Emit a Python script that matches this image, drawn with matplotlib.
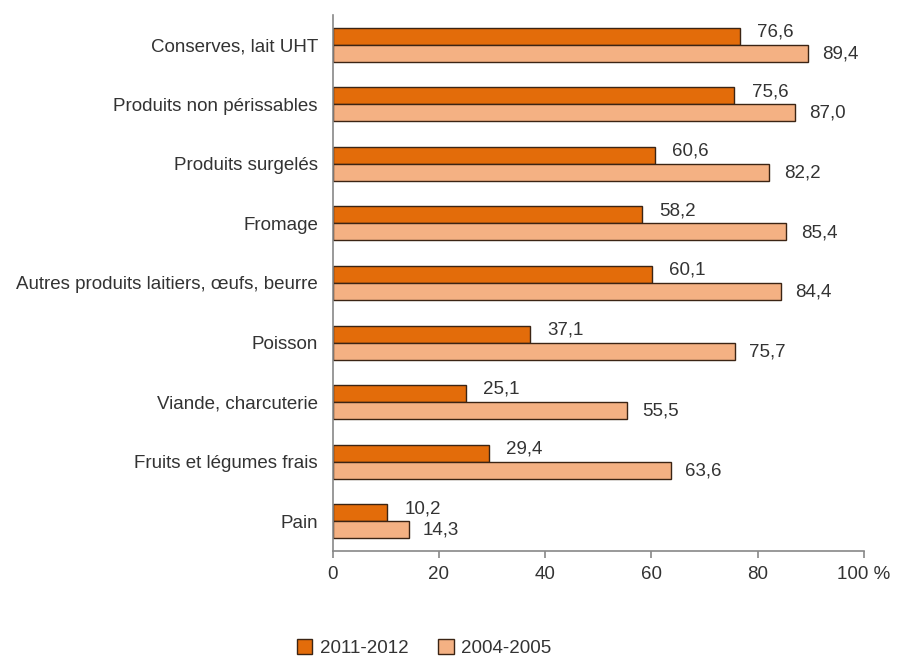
import matplotlib
matplotlib.use("Agg")
import matplotlib.pyplot as plt
import numpy as np

plt.rcParams['font.family'] = ['Liberation Sans', 'DejaVu Sans']

categories = ["Conserves, lait UHT", "Produits non périssables", "Produits surgelés",
              "Fromage", "Autres produits laitiers, œufs, beurre", "Poisson",
              "Viande, charcuterie", "Fruits et légumes frais", "Pain"]
s2011 = [76.6, 75.6, 60.6, 58.2, 60.1, 37.1, 25.1, 29.4, 10.2]
s2004 = [89.4, 87.0, 82.2, 85.4, 84.4, 75.7, 55.5, 63.6, 14.3]
series_names = ["2011-2012", "2004-2005"]
xticks = [0, 20, 40, 60, 80, 100]
xticklabels = ["0", "20", "40", "60", "80", "100 %"]

c1 = "#E36C0A"
c2 = "#F4B183"
edge = "#3b2414"
tc = "#333333"
fs = 13.5

fig = plt.figure(figsize=(9.02, 6.59), dpi=100)
ax = fig.add_axes([332.5/902, 1 - 551/659, (864 - 332.5)/902, (551 - 15)/659])

n = len(categories)
y = np.arange(n)
h = 0.285
b1 = ax.barh(y - h/2, s2011, height=h, color=c1, edgecolor=edge, linewidth=1.0, label=series_names[0])
b2 = ax.barh(y + h/2, s2004, height=h, color=c2, edgecolor=edge, linewidth=1.0, label=series_names[1])

fmt = lambda v: f"{v:.1f}".replace(".", ",")
for yy, v in zip(y - h/2, s2011):
    ax.text(v + 3.3, yy - 0.07, fmt(v), va="center", ha="left", fontsize=fs, color=tc)
for yy, v in zip(y + h/2, s2004):
    ax.text(v + 2.7, yy + 0.01, fmt(v), va="center", ha="left", fontsize=fs, color=tc)

ax.set_ylim(n - 0.5, -0.5)
ax.set_xlim(0, 100)
ax.set_yticks(y)
ax.set_yticklabels(categories, fontsize=fs, color=tc)
ax.tick_params(axis="y", length=0, pad=10.5)
ax.set_xticks(xticks)
ax.set_xticklabels(xticklabels, fontsize=fs, color=tc)
ax.tick_params(axis="x", direction="out", length=5, color="#888888", width=1.2, pad=6)
for s in ["top", "right"]:
    ax.spines[s].set_visible(False)
for s in ["left", "bottom"]:
    ax.spines[s].set_color("#888888")
    ax.spines[s].set_linewidth(1.2)

leg = fig.legend(handles=[b1, b2], labels=series_names, loc="center", bbox_to_anchor=(0.47, 1 - 648/659),
                 ncol=2, frameon=False, fontsize=fs, handlelength=0.83, handleheight=0.83,
                 handletextpad=0.39, columnspacing=1.6, borderpad=0.2)
for t in leg.get_texts():
    t.set_color(tc)

fig.savefig("out.png", dpi=100)
